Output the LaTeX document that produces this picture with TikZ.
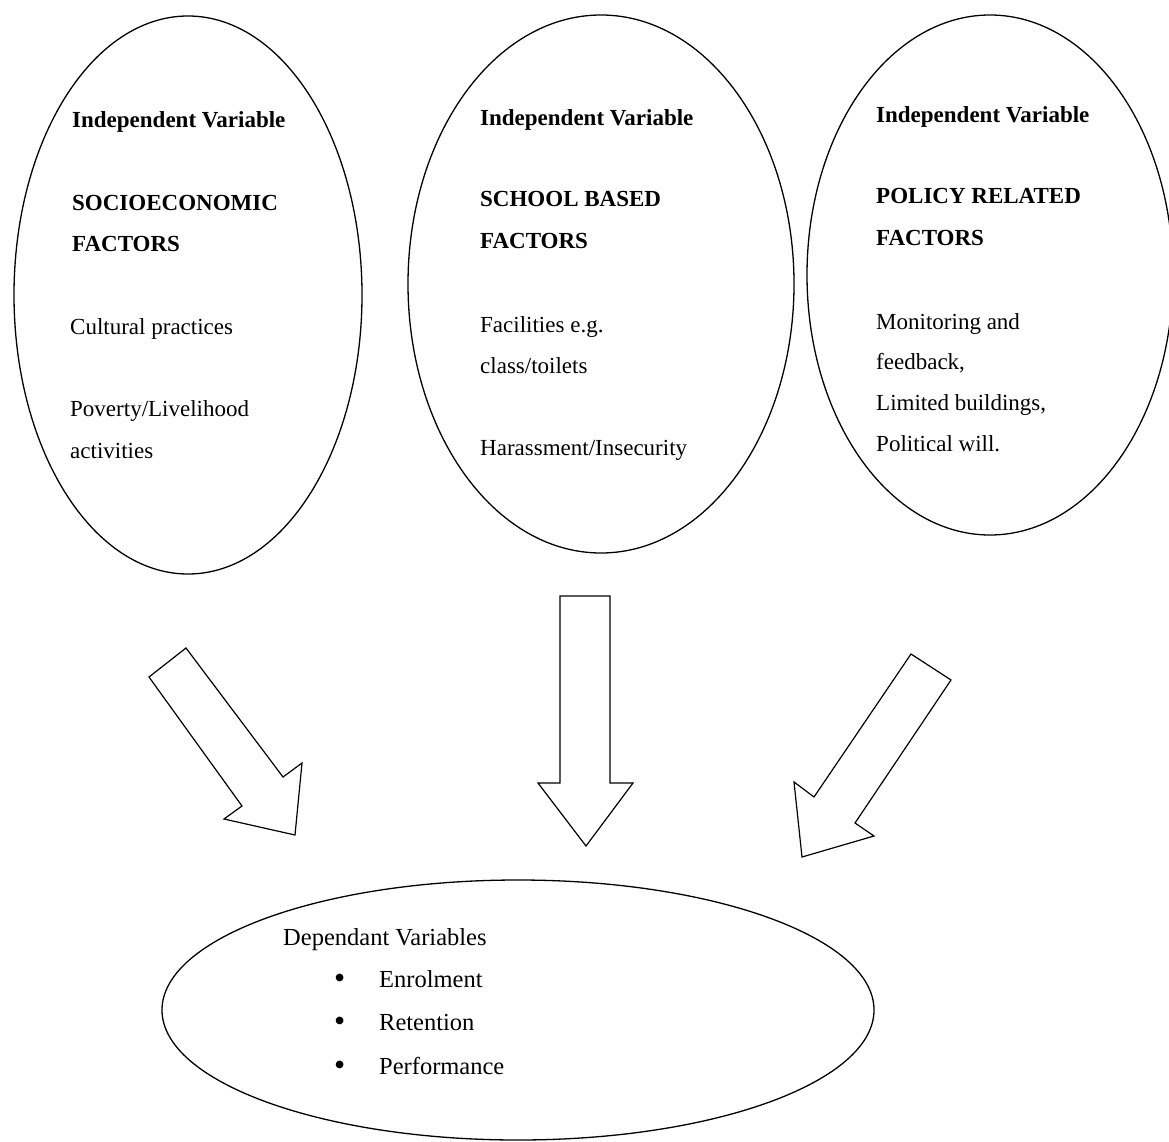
\documentclass[tikz,border=0pt]{standalone}
\usepackage{fontspec}
\setmainfont{Liberation Serif}
\usetikzlibrary{shapes.geometric}
\tikzset{
  var/.style={draw, ellipse, line width=1.3pt, inner sep=0pt},
  lbl/.style={anchor=base west, inner sep=0pt, font=\fontsize{23}{26}\selectfont},
  head/.style={lbl, font=\fontsize{23}{26}\selectfont\bfseries},
  deplbl/.style={anchor=base west, inner sep=0pt, font=\fontsize{24.5}{28}\selectfont},
  blockarrow/.style={draw, line width=1.2pt, line join=miter}
}
\newcommand{\depitem}[1]{\makebox[45pt][l]{\raisebox{-1.5pt}{\scalebox{1.3}{\textbullet}}}#1}
\begin{document}
\begin{tikzpicture}[x=1pt, y=-1pt]
      \useasboundingbox (0,0) rectangle (1169,1142);
      % the four ellipses
      \node[var, minimum width=348pt, minimum height=558pt] (socio) at (188,295) {};
      \node[var, minimum width=386pt, minimum height=538pt] (school) at (601,284) {};
      \node[var, minimum width=366pt, minimum height=520pt] (policy) at (990,275) {};
      \node[var, minimum width=712pt, minimum height=260pt] (dep) at (518,1010) {};
      % socioeconomic
      \draw
        (72,128) node[head] (s0){Independent Variable}
        (72,210) node[head] (s1){SOCIOECONOMIC}
        (72,251) node[head] (s2){FACTORS}
        (70,334) node[lbl] (s3){Cultural practices}
        (70,416) node[lbl] (s4){Poverty/Livelihood}
        (70,458) node[lbl] (s5){activities};
      % school based
      \draw
        (480,126) node[head] (c0){Independent Variable}
        (480,207) node[head] (c1){SCHOOL BASED}
        (480,248) node[head] (c2){FACTORS}
        (480,332) node[lbl] (c3){Facilities e.g.}
        (480,373) node[lbl] (c4){class/toilets}
        (480,455) node[lbl] (c5){Harassment/Insecurity};
      % policy related
      \draw
        (876,123) node[head] (p0){Independent Variable}
        (876,204) node[head] (p1){POLICY RELATED}
        (876,245) node[head] (p2){FACTORS}
        (876,329) node[lbl] (p3){Monitoring and}
        (876,369) node[lbl] (p4){feedback,}
        (876,410) node[lbl] (p5){Limited buildings,}
        (876,451) node[lbl] (p6){Political will.};
      % dependant
      \draw
        (283,945) node[deplbl] (d0){Dependant Variables}
        (334,987) node[deplbl] (d1){\depitem{Enrolment}}
        (334,1030) node[deplbl] (d2){\depitem{Retention}}
        (334,1074) node[deplbl] (d3){\depitem{Performance}};
      % block arrows
      \begin{scope}[blockarrow]
        \draw (186,648) -- (283,777) -- (302,763) -- (295,835) -- (224,819)
          -- (242,806) -- (149,677) -- cycle;
        \draw (560,596) -- (610,596) -- (610,783) -- (633,783) -- (586,846)
          -- (538,783) -- (560,783) -- cycle;
        \draw (911,654) -- (951,680) -- (855,823) -- (874,836) -- (802,857)
          -- (794,782) -- (814,797) -- cycle;
      \end{scope}
    \end{tikzpicture}
\end{document}
